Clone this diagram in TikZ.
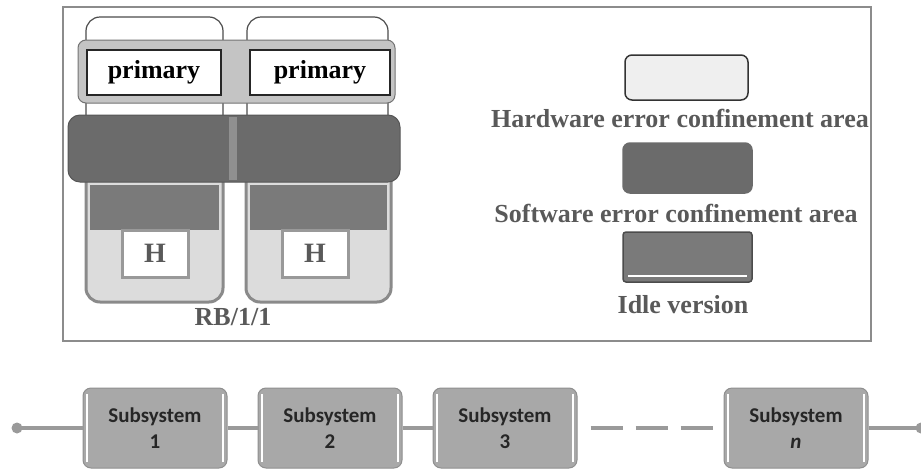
\documentclass[tikz,border=0pt]{standalone}
\usepackage{fontspec}
\setmainfont{Liberation Serif}
\newfontfamily\subfont{Carlito}
\usetikzlibrary{positioning}

\definecolor{framegray}{HTML}{8C8C8C}
\definecolor{bargray}{HTML}{C4C4C4}
\definecolor{swgray}{HTML}{6B6B6B}
\definecolor{idlegray}{HTML}{7A7A7A}
\definecolor{lightfill}{HTML}{DCDCDC}
\definecolor{bucketgray}{HTML}{8A8A8A}
\definecolor{hwfill}{HTML}{EFEFEF}
\definecolor{boxgray}{HTML}{A8A8A8}
\definecolor{boxedge}{HTML}{8F8F8F}
\definecolor{wiregray}{HTML}{9A9A9A}

\begin{document}
\begin{tikzpicture}[x=1pt, y=-1pt, node distance=175pt]
    \tikzstyle{outerframe} = [draw=framegray, line width=1.5pt]
    \tikzstyle{hwarea} = [draw=black!70, line width=1.2pt, fill=white, rounded corners=14pt]
    \tikzstyle{swarea} = [fill=swgray, draw=swgray!80!black, line width=1pt, rounded corners=12pt]
    \tikzstyle{bucket} = [fill=lightfill, draw=bucketgray, line width=3pt, rounded corners=14pt]
    \tikzstyle{primarybox} = [rectangle, draw=black!85, line width=1.5pt, fill=white, minimum height=45pt, font=\fontsize{26}{28}\selectfont\bfseries]
    \tikzstyle{hbox} = [rectangle, draw=black!40, line width=3pt, fill=white, minimum width=66pt, minimum height=47pt, font=\fontsize{28}{30}\selectfont\bfseries, text=black!65]
    \tikzstyle{keybox} = [rectangle, rounded corners=7pt, line width=1.5pt]
    \tikzstyle{legendtext} = [font=\fontsize{26}{28}\selectfont\bfseries, text=black!65]
    \tikzstyle{subsys} = [rectangle, rounded corners=8pt, draw=boxedge, line width=1pt, fill=boxgray, minimum width=144pt, minimum height=80pt, align=center, font=\subfont\fontsize{21}{26}\selectfont\bfseries, text=black!85, path picture={\draw[white, line width=1.5pt] ([xshift=4pt, yshift=6pt]path picture bounding box.south west) -- ([xshift=4pt, yshift=-6pt]path picture bounding box.north west); \draw[white, line width=1.5pt] ([xshift=-4pt, yshift=6pt]path picture bounding box.south east) -- ([xshift=-4pt, yshift=-6pt]path picture bounding box.north east);}]
    \tikzstyle{wire} = [draw=wiregray, line width=4pt]

    \useasboundingbox (0,0) rectangle (921,469);

    % RB/1/1 scheme
    \draw[outerframe] (63,7) rectangle (871,341);
    \draw[hwarea] (86,17) rectangle (223,200);
    \draw[hwarea] (247,17) rectangle (388,200);
    \draw[bucket] (86,150) rectangle (223,302);
    \draw[bucket] (246,150) rectangle (391,302);
    \draw[swarea] (68,115) rectangle (400,182);
    \fill[swgray!75!white] (229,117) rectangle (237,180);
    \fill[idlegray] (90,185) rectangle (219,230);
    \fill[idlegray] (250,185) rectangle (387,230);
    \draw[fill=bargray, draw=black!55, line width=1pt, rounded corners=8pt] (78,40) rectangle (395,103);
    \node (prim1) [primarybox, minimum width=134pt] at (154,72.5) {primary};
    \node (prim2) [primarybox, minimum width=140pt] at (320,72.5) {primary};
    \node (h1) [hbox] at (155,253.5) {H};
    \node (h2) [hbox] at (315,253.5) {H};
    \node (rb) [legendtext] at (233,317) {RB/1/1};

    % Legend
    \node (hwkey) [keybox, draw=black!80, fill=hwfill, minimum width=123pt, minimum height=45pt] at (686.5,77.5) {};
    \node (hwtext) [legendtext] at (680,118) {Hardware error confinement area};
    \node (swkey) [keybox, draw=swgray, fill=swgray, minimum width=129pt, minimum height=50pt] at (687.5,168) {};
    \node (swtext) [legendtext] at (676,213) {Software error confinement area};
    \node (idlekey) [keybox, rounded corners=3pt, draw=black!70, fill=idlegray, minimum width=129pt, minimum height=50pt] at (687.5,257) {};
    \draw[white, line width=1.5pt] ([xshift=6pt, yshift=7pt]idlekey.south west) -- ([xshift=-6pt, yshift=7pt]idlekey.south east);
    \node (idletext) [legendtext] at (683,305) {Idle version};

    % Series chain
    \coordinate (start) at (17,428);
    \coordinate (finish) at (921,428);
    \node (sub1) [subsys] at (155,428) {Subsystem\\1};
    \node (sub2) [subsys, right of=sub1] {Subsystem\\2};
    \node (sub3) [subsys, right of=sub2] {Subsystem\\3};
    \node (subn) [subsys, node distance=291pt, right of=sub3] {Subsystem\\\textit{n}};

    % Wires
    \fill[wiregray] (start) circle (5.5pt);
    \fill[wiregray] (finish) circle (5.5pt);
    \draw[wire] (start) -- (sub1);
    \draw[wire] (sub1) -- (sub2);
    \draw[wire] (sub2) -- (sub3);
    \draw[wire, dash pattern=on 32pt off 13pt, dash phase=32pt] (sub3) -- (subn);
    \draw[wire] (subn) -- (finish);
\end{tikzpicture}
\end{document}
